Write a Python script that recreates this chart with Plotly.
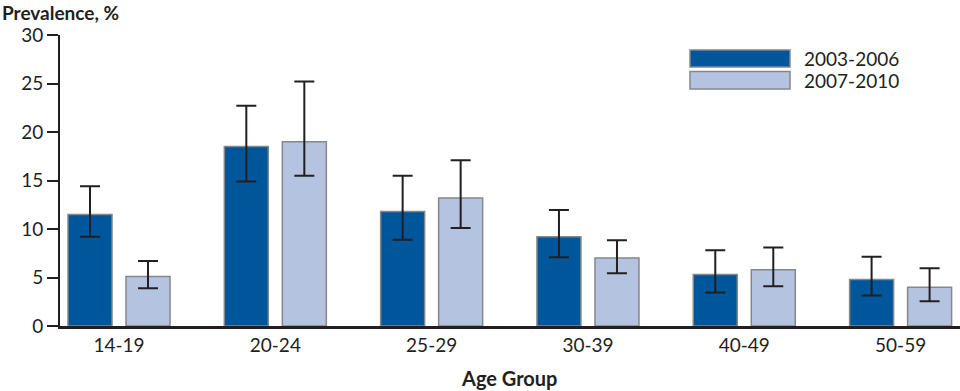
import plotly.graph_objects as go

age_groups = ["14-19", "20-24", "25-29", "30-39", "40-49", "50-59"]

prev_2003_2006 = [11.5, 18.5, 11.8, 9.2, 5.3, 4.8]
lo_2003_2006 = [9.2, 14.9, 8.9, 7.1, 3.45, 3.15]
hi_2003_2006 = [14.4, 22.7, 15.5, 11.95, 7.8, 7.15]

prev_2007_2010 = [5.1, 19.0, 13.2, 7.0, 5.8, 4.0]
lo_2007_2010 = [3.9, 15.5, 10.1, 5.45, 4.1, 2.55]
hi_2007_2010 = [6.7, 25.2, 17.1, 8.85, 8.1, 5.95]

series_names = ["2003-2006", "2007-2010"]

DARK = "#00569A"
LIGHT = "#B4C4E0"
INK = "#231F20"
FONT = "Lato"

fig = go.Figure()

def add_series(name, vals, lo, hi, color, offset):
    fig.add_trace(go.Bar(
        x=age_groups, y=vals, name=name,
        width=0.2815, offset=offset,
        marker=dict(color=color, line=dict(color="#85878A", width=1.5)),
        error_y=dict(type="data", symmetric=False,
                     array=[h - v for h, v in zip(hi, vals)],
                     arrayminus=[v - l for v, l in zip(vals, lo)],
                     color=INK, thickness=2, width=10),
        showlegend=False,
    ))

add_series(series_names[0], prev_2003_2006, lo_2003_2006, hi_2003_2006, DARK, -0.3263)
add_series(series_names[1], prev_2007_2010, lo_2007_2010, hi_2007_2010, LIGHT, 0.0448)

L, R, T, B = 60, 0, 35, 65
W, H = 960, 391
plot_h = H - T - B
plot_w = W - L - R

def py(y):
    return (H - B - y) / plot_h

def px(x):
    return (x - L) / plot_w

fig.update_layout(
    width=W, height=H,
    margin=dict(l=L, r=R, t=T, b=B, autoexpand=False),
    plot_bgcolor="white", paper_bgcolor="white",
    barmode="overlay",
    font=dict(family=FONT, size=19, color=INK),
    xaxis=dict(
        type="category", range=[-0.3775, 5.38],
        showline=True, linecolor=INK, linewidth=3,
        ticks="", showgrid=False, zeroline=False,
        tickfont=dict(size=19, color=INK),
        automargin=False,
    ),
    yaxis=dict(
        range=[0, 30], tickvals=[0, 5, 10, 15, 20, 25, 30],
        showline=True, linecolor=INK, linewidth=2,
        ticks="outside", ticklen=11, tickwidth=2, tickcolor=INK,
        showgrid=False, zeroline=False,
        tickfont=dict(size=19, color=INK),
        automargin=False,
    ),
)

fig.add_annotation(text="<b>Prevalence, %</b>", x=px(0), y=py(12), xref="paper", yref="paper",
                   showarrow=False, xanchor="left", yanchor="middle",
                   font=dict(size=19, color=INK))
fig.add_annotation(text="<b>Age Group</b>", x=px(509), y=py(378), xref="paper", yref="paper",
                   showarrow=False, xanchor="center", yanchor="middle",
                   font=dict(size=20, color=INK))

# legend drawn manually
legend_rows = [(series_names[0], DARK, 50, 67), (series_names[1], LIGHT, 71.5, 89)]
for name, color, y0, y1 in legend_rows:
    fig.add_shape(type="rect", xref="paper", yref="paper",
                  x0=px(690), x1=px(790), y0=py(y1), y1=py(y0),
                  fillcolor=color, line=dict(color="#85878A", width=1.5))
    fig.add_annotation(text=name, xref="paper", yref="paper",
                       x=px(802), y=py((y0 + y1) / 2), xanchor="left", yanchor="middle",
                       showarrow=False, font=dict(size=19, color=INK))

fig.write_html("out.html", config={"displayModeBar": False},
               post_script="document.body.style.margin='0';")
